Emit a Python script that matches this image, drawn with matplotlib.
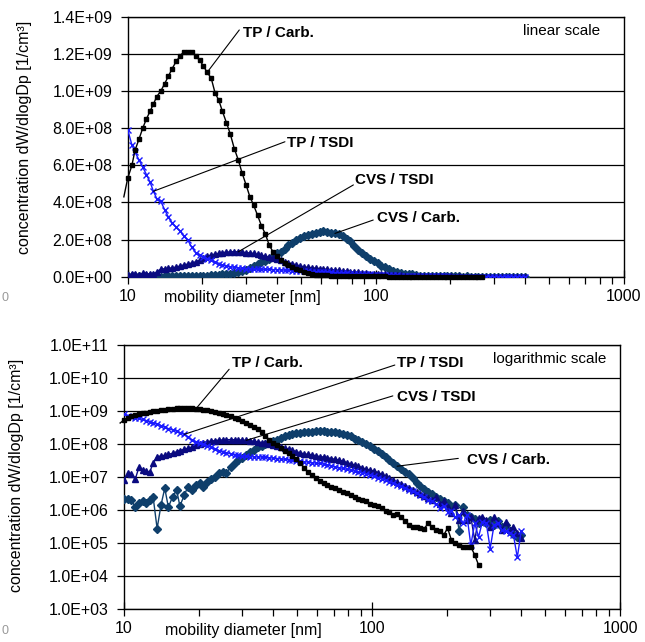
import matplotlib
matplotlib.use('Agg')
import matplotlib.pyplot as plt
from matplotlib.ticker import FixedLocator, FixedFormatter, FuncFormatter, NullLocator, NullFormatter

plt.rcParams['font.family'] = ['Liberation Sans', 'DejaVu Sans']

# mobility diameter channels [nm]
D = [9.65, 10.0, 10.4, 10.7, 11.1, 11.5, 11.9, 12.3, 12.7, 13.1, 13.6, 14.1, 14.6, 15.1, 15.7,
     16.3, 16.8, 17.5, 18.1, 18.8, 19.5, 20.2, 20.9, 21.7, 22.5, 23.3, 24.1, 25.0, 25.9, 26.9,
     27.9, 28.9, 30.0, 31.1, 32.2, 33.4, 34.6, 35.9, 37.2, 38.5, 40.0, 41.4, 42.9, 44.5, 46.1,
     47.8, 49.6, 51.4, 53.3, 55.2, 57.3, 59.4, 61.5, 63.8, 66.1, 68.5, 71.0, 73.7, 76.4, 79.1,
     82.0, 85.1, 88.2, 91.4, 94.7, 98.2, 101.8, 105.5, 109.4, 113.4, 117.6, 121.9, 126.3, 131.0,
     135.8, 140.7, 145.9, 151.2, 156.8, 162.5, 168.5, 174.7, 181.1, 187.7, 194.6, 201.7, 209.1,
     216.7, 224.7, 232.9, 241.4, 250.3, 259.5, 269.0, 278.8, 289.0, 299.6, 310.6, 322.0, 333.8,
     346.0, 358.7, 371.8, 385.4, 399.5]

# TP / Carb. (starts at channel 0)
TP_CARB = [4.3e8, 5.3e8, 6.0e8, 6.8e8, 7.4e8, 8.0e8, 8.5e8, 8.9e8, 9.3e8, 9.7e8,
           1.0e9, 1.04e9, 1.08e9, 1.12e9, 1.16e9, 1.19e9, 1.21e9, 1.21e9, 1.21e9, 1.19e9,
           1.165e9, 1.135e9, 1.10e9, 1.07e9, 9.9e8, 9.5e8, 8.9e8, 8.3e8, 7.7e8, 6.9e8,
           6.3e8, 5.6e8, 4.95e8, 4.3e8, 3.85e8, 3.3e8, 2.75e8, 2.3e8, 1.7e8, 1.35e8,
           1.1e8, 9.0e7, 7.5e7, 6.2e7, 5.2e7, 4.4e7, 3.5e7, 2.6e7, 1.9e7, 1.4e7,
           1.1e7, 9.0e6, 7.5e6, 6.5e6, 5.5e6, 5.0e6, 4.5e6, 4.0e6, 3.5e6, 3.2e6,
           2.8e6, 2.5e6, 2.2e6, 2.0e6, 1.8e6, 1.5e6, 1.4e6, 1.3e6, 1.1e6, 9.5e5,
           8.7e5, 7.0e5, 7.4e5, 6.2e5, 4.7e5, 3.5e5, 3.1e5, 3.0e5, 2.8e5, 2.7e5,
           3.9e5, 3.1e5, 2.5e5, 2.2e5, 1.7e5, 2.8e5, 1.2e5, 1.0e5, 8.5e4, 7.6e4,
           7.6e4, 7.5e4, 4.3e4, 2.1e4]

# TP / TSDI (starts at channel 1)
TP_TSDI = [7.9e8, 7.1e8, 6.7e8, 6.3e8, 5.9e8, 5.5e8, 5.1e8, 4.6e8, 4.2e8, 4.05e8,
           3.6e8, 3.2e8, 2.9e8, 2.65e8, 2.45e8, 2.2e8, 1.95e8, 1.6e8, 1.3e8, 1.15e8,
           1.08e8, 9.8e7, 8.8e7, 7.8e7, 7.0e7, 6.3e7, 5.8e7, 5.4e7, 5.0e7, 4.7e7,
           4.5e7, 4.4e7, 4.2e7, 4.1e7, 4.0e7, 4.0e7, 4.0e7, 3.9e7, 3.8e7, 3.7e7,
           3.6e7, 3.5e7, 3.4e7, 3.3e7, 3.2e7, 3.1e7, 3.0e7, 2.9e7, 2.8e7, 2.7e7,
           2.6e7, 2.55e7, 2.45e7, 2.3e7, 2.2e7, 2.0e7, 1.9e7, 1.8e7, 1.7e7, 1.6e7,
           1.5e7, 1.4e7, 1.35e7, 1.25e7, 1.15e7, 1.05e7, 9.5e6, 8.8e6, 8.0e6, 7.2e6,
           6.5e6, 5.8e6, 5.2e6, 4.6e6, 4.0e6, 3.6e6, 3.2e6, 2.8e6, 2.4e6, 2.0e6,
           1.8e6, 1.5e6, 1.1e6, 1.3e6, 8.7e5, 9.5e5, 6.0e5, 7.0e5, 3.9e5, 6.9e5,
           8.5e4, 3.9e5, 1.5e5, 4.4e5, 3.9e5, 6.7e4, 3.5e5, 3.9e5, 2.5e5, 2.2e5,
           2.0e5, 1.7e5, 3.6e4, 2.2e5]

# CVS / TSDI (starts at channel 1)
CVS_TSDI = [8e6, 1.3e7, 1.2e7, 8.5e6, 2.0e7, 1.6e7, 1.5e7, 1.4e7, 2.6e7, 4.1e7,
            4.3e7, 4.5e7, 4.8e7, 5.2e7, 5.8e7, 6.3e7, 6.8e7, 7.4e7, 8.0e7, 9.0e7,
            1.0e8, 1.1e8, 1.17e8, 1.22e8, 1.26e8, 1.3e8, 1.32e8, 1.34e8, 1.35e8, 1.34e8,
            1.33e8, 1.3e8, 1.28e8, 1.25e8, 1.2e8, 1.15e8, 1.1e8, 1.05e8, 1.0e8, 9.5e7,
            8.8e7, 8.0e7, 7.5e7, 7.0e7, 6.4e7, 5.8e7, 5.3e7, 5.0e7, 4.8e7, 4.6e7,
            4.4e7, 4.1e7, 4.0e7, 3.8e7, 3.6e7, 3.4e7, 3.2e7, 3.0e7, 2.7e7, 2.5e7,
            2.3e7, 2.1e7, 1.9e7, 1.7e7, 1.6e7, 1.5e7, 1.35e7, 1.2e7, 1.05e7, 9.0e6,
            7.8e6, 6.8e6, 6.0e6, 5.2e6, 4.5e6, 3.9e6, 3.4e6, 3.0e6, 2.7e6, 2.3e6,
            2.0e6, 2.5e6, 1.5e6, 1.8e6, 1.2e6, 8.0e5, 1.4e6, 4.9e5, 9.0e5, 5.0e5,
            6.2e5, 1.2e5, 5.5e5, 6.2e5, 5.0e5, 3.0e5, 6.2e5, 4.0e5, 2.5e5, 4.4e5,
            2.5e5, 3.0e5, 2.0e5, 1.4e5]

# CVS / Carb. (starts at channel 1)
CVS_CARB = [2.2e6, 2.1e6, 2.0e6, 1.2e6, 1.6e6, 1.8e6, 1.6e6, 2.0e6, 2.5e6, 2.7e5,
            1.4e6, 4.5e6, 1.2e6, 2.5e6, 4.0e6, 1.3e6, 2.8e6, 5.0e6, 4.0e6, 5.5e6,
            6.3e6, 5.0e6, 7.0e6, 8.5e6, 1.0e7, 1.3e7, 1.45e7, 1.3e7, 2.0e7, 2.6e7,
            3.2e7, 3.8e7, 4.6e7, 5.5e7, 6.6e7, 7.8e7, 8.6e7, 9.6e7, 1.1e8, 1.25e8,
            1.35e8, 1.5e8, 1.7e8, 1.8e8, 1.95e8, 2.1e8, 2.2e8, 2.25e8, 2.3e8, 2.35e8,
            2.42e8, 2.45e8, 2.42e8, 2.35e8, 2.33e8, 2.28e8, 2.2e8, 2.05e8, 1.9e8, 1.68e8,
            1.45e8, 1.3e8, 1.13e8, 9.8e7, 8.5e7, 7.2e7, 6.0e7, 5.0e7, 4.0e7, 3.2e7,
            2.6e7, 2.1e7, 1.7e7, 1.45e7, 1.2e7, 9.0e6, 6.3e6, 5.2e6, 4.2e6, 3.5e6,
            3.0e6, 2.5e6, 2.2e6, 1.9e6, 1.6e6, 1.2e6, 1.4e6, 2.2e5, 1.2e6, 7.0e5,
            6.2e5, 5.1e5, 3.9e5, 4.5e5, 3.9e5, 5.0e5, 3.5e5, 4.5e5, 3.0e5, 3.5e5,
            2.2e5, 1.9e5, 1.5e5, 1.7e5]

X_TICKS = [10, 100, 1000]
X_TICK_LABELS = ['10', '100', '1000']
LIN_Y_TICKS = [0, 2e8, 4e8, 6e8, 8e8, 1.0e9, 1.2e9, 1.4e9]
LOG_Y_TICKS = [1e3, 1e4, 1e5, 1e6, 1e7, 1e8, 1e9, 1e10, 1e11]

W, H = 645, 642
fig = plt.figure(figsize=(W / 100, H / 100), dpi=100)


def fx(px):
    return px / W


def fy(py):
    return 1 - py / H


ax1 = fig.add_axes([fx(127.7), fy(276.7), (623.7 - 127.7) / W, (276.7 - 16.7) / H])
ax2 = fig.add_axes([fx(124), fy(608.7), (620 - 124) / W, (608.7 - 345) / H])

C_CARB = '#0f3f6b'
C_CVST = '#0a0a80'
C_TPT = '#1a1aff'

series = [
    (D[1:1 + len(CVS_CARB)], CVS_CARB, dict(color=C_CARB, marker='D', ms=4.2, mfc=C_CARB, mec=C_CARB, lw=1.0)),
    (D[1:1 + len(CVS_TSDI)], CVS_TSDI, dict(color=C_CVST, marker='^', ms=4.2, mfc=C_CVST, mec=C_CVST, lw=1.0)),
    (D[1:1 + len(TP_TSDI)], TP_TSDI, dict(color=C_TPT, marker='x', ms=4.0, mew=1.0, lw=1.0)),
]

for ax in (ax1, ax2):
    for xs, ys, st in series:
        ax.plot(xs, ys, zorder=3, **st)
    ax.plot(D[:len(TP_CARB)], TP_CARB, color='black', marker='s', ms=3.2, lw=1.0,
            markevery=slice(1, None), zorder=4, clip_on=False)
    ax.set_xscale('log')
    ax.set_xlim(10, 1000)
    ax.xaxis.set_major_locator(FixedLocator(X_TICKS))
    ax.xaxis.set_major_formatter(FixedFormatter(X_TICK_LABELS))
    ax.xaxis.set_minor_locator(FixedLocator([20, 30, 40, 50, 60, 70, 80, 90,
                                             200, 300, 400, 500, 600, 700, 800, 900]))
    ax.xaxis.set_minor_formatter(NullFormatter())
    ax.tick_params(axis='x', which='major', direction='inout', length=10, width=0.9, pad=4,
                   labelsize=11.5, color='black')
    ax.tick_params(axis='x', which='minor', direction='out', length=5, width=0.9)
    ax.tick_params(axis='y', which='major', direction='out', length=5, width=0.9, pad=6,
                   labelsize=11.5)
    ax.yaxis.grid(True, which='major', color='black', lw=0.9)
    ax.set_axisbelow(True)
    for s in ax.spines.values():
        s.set_color('black')
        s.set_linewidth(1.0)

ax1.set_ylim(0, 1.4e9)
ax1.yaxis.set_major_locator(FixedLocator(LIN_Y_TICKS))
ax1.yaxis.set_major_formatter(FuncFormatter(lambda v, p: f"{v:.1E}"))

ax2.set_yscale('log')
ax2.set_ylim(1e3, 1e11)
ax2.yaxis.set_major_locator(FixedLocator(LOG_Y_TICKS))
ax2.yaxis.set_minor_locator(NullLocator())
ax2.yaxis.set_major_formatter(FuncFormatter(lambda v, p: f"{v:.1E}"))


def pt(arr, start, idx):
    return (D[idx], arr[idx - start])


def label(ax, name, anchor, line_end, text_pos):
    ax.annotate('', xy=anchor, xycoords='data', xytext=line_end, textcoords='axes fraction',
                arrowprops=dict(arrowstyle='-', color='black', lw=0.8, shrinkA=0, shrinkB=0),
                zorder=5)
    ax.text(text_pos[0], text_pos[1], name, transform=ax.transAxes, ha='left', va='center',
            fontsize=11, fontweight='bold', zorder=6)


label(ax1, 'TP / Carb.', pt(TP_CARB, 0, 22), (0.225, 0.949), (0.2325, 0.937))
label(ax1, 'TP / TSDI', pt(TP_TSDI, 1, 8), (0.317, 0.519), (0.322, 0.513))
label(ax1, 'CVS / TSDI', pt(CVS_TSDI, 1, 30), (0.455, 0.353), (0.458, 0.372))
label(ax1, 'CVS / Carb.', pt(CVS_CARB, 1, 55), (0.495, 0.218), (0.502, 0.226))
ax1.text(0.7976, 0.945, 'linear scale', transform=ax1.transAxes, ha='left', va='center', fontsize=11)

label(ax2, 'TP / Carb.', pt(TP_CARB, 0, 20), (0.212, 0.908), (0.217, 0.931))
label(ax2, 'TP / TSDI', pt(TP_TSDI, 1, 17), (0.546, 0.924), (0.550, 0.933))
label(ax2, 'CVS / TSDI', pt(CVS_TSDI, 1, 33), (0.542, 0.807), (0.550, 0.802))
label(ax2, 'CVS / Carb.', pt(CVS_CARB, 1, 72), (0.674, 0.570), (0.691, 0.564))
ax2.text(0.744, 0.946, 'logarithmic scale', transform=ax2.transAxes, ha='left', va='center', fontsize=11)

ylab = 'concentration dW/dlogDp [1/cm\u00b3]'
fig.text(fx(25), fy(137), ylab, rotation=90, ha='center', va='center', fontsize=11.5)
fig.text(fx(17), fy(475), ylab, rotation=90, ha='center', va='center', fontsize=11.5)

fig.text(fx(242), fy(298), 'mobility diameter [nm]', ha='center', va='center', fontsize=11.5)
fig.text(fx(243), fy(631), 'mobility diameter [nm]', ha='center', va='center', fontsize=11.5)

fig.text(fx(1), fy(298), '0', ha='left', va='center', fontsize=9, color='#999999')
fig.text(fx(1), fy(631), '0', ha='left', va='center', fontsize=9, color='#999999')

fig.savefig('out.png', dpi=100)
